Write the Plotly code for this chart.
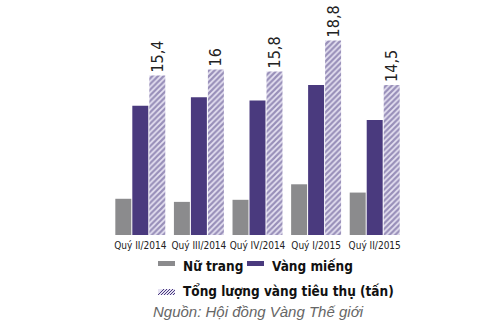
import plotly.graph_objects as go

categories = ["Quý II/2014", "Quý III/2014", "Quý IV/2014", "Quý I/2015", "Quý II/2015"]
nu_trang = [3.5, 3.2, 3.4, 4.9, 4.1]
vang_mieng = [12.5, 13.3, 13.0, 14.5, 11.1]
tong_luong = [15.4, 16.0, 15.8, 18.8, 14.5]
tong_labels = ["15,4", "16", "15,8", "18,8", "14,5"]

W, H = 500, 330
L, R, T, B = 111, 96, 10, 95
PW, PH = W - L - R, H - T - B

def px(x):
    return (x - L) / PW

def py(y):
    return (H - B - y) / PH

GRAY = "#8b8b8d"
PURPLE = "#4a3a7e"
HATCH_FG = "#4a3b80"
HATCH_BG = "#e6e2f2"
NARROW = "DejaVu Sans Condensed"

fig = go.Figure()
fig.add_trace(go.Bar(x=categories, y=nu_trang, name="Nữ trang",
                     marker=dict(color=GRAY, line=dict(width=0))))
fig.add_trace(go.Bar(x=categories, y=vang_mieng, name="Vàng miếng",
                     marker=dict(color=PURPLE, line=dict(width=0))))
fig.add_trace(go.Bar(x=categories, y=tong_luong, name="Tổng lượng vàng tiêu thụ (tấn)",
                     text=tong_labels, textposition="outside", textangle=-90,
                     constraintext="none",
                     textfont=dict(family=NARROW, size=16, color="#222"),
                     cliponaxis=False,
                     marker=dict(color=HATCH_BG, line=dict(width=0),
                                 pattern=dict(shape="/", fgcolor=HATCH_FG, bgcolor=HATCH_BG,
                                              size=4, solidity=0.55))))

shapes = []
annotations = []
# legend row 1
shapes.append(dict(type="rect", xref="paper", yref="paper",
                   x0=px(158), x1=px(175), y0=py(266), y1=py(261),
                   fillcolor=GRAY, line=dict(width=0)))
shapes.append(dict(type="rect", xref="paper", yref="paper",
                   x0=px(247), x1=px(264), y0=py(266), y1=py(261),
                   fillcolor=PURPLE, line=dict(width=0)))
# hatched swatch row 2
shapes.append(dict(type="rect", xref="paper", yref="paper",
                   x0=px(158), x1=px(175), y0=py(295), y1=py(289),
                   fillcolor=HATCH_BG, line=dict(width=0)))
for i in range(6):
    x0 = 158 + i * 3
    x1 = min(x0 + 6, 175)
    shapes.append(dict(type="line", xref="paper", yref="paper",
                       x0=px(x0), y0=py(295), x1=px(x1), y1=py(295 - (x1 - x0)),
                       line=dict(color=HATCH_FG, width=1)))
legend_font = dict(family=NARROW, size=13.5, color="#111")
annotations.append(dict(text="<b>Nữ trang</b>", xref="paper", yref="paper",
                        x=px(181), y=py(266), xanchor="left", yanchor="middle",
                        showarrow=False, font=legend_font))
annotations.append(dict(text="<b>Vàng miếng</b>", xref="paper", yref="paper",
                        x=px(270), y=py(266), xanchor="left", yanchor="middle",
                        showarrow=False, font=legend_font))
annotations.append(dict(text="<b>Tổng lượng vàng tiêu thụ (tấn)</b>", xref="paper", yref="paper",
                        x=px(181), y=py(291), xanchor="left", yanchor="middle",
                        showarrow=False, font=legend_font))
annotations.append(dict(text="<i>Nguồn: Hội đồng Vàng Thế giới</i>", xref="paper", yref="paper",
                        x=px(151), y=py(311), xanchor="left", yanchor="middle",
                        showarrow=False, font=dict(family="Liberation Sans, Arial, sans-serif",
                                                   size=15, color="#666")))

fig.update_layout(
    width=W, height=H,
    margin=dict(l=L, r=R, t=T, b=B),
    paper_bgcolor="white", plot_bgcolor="white",
    barmode="group", bargap=0.13, bargroupgap=0.06,
    showlegend=False,
    shapes=shapes, annotations=annotations,
    xaxis=dict(showgrid=False, showline=False, zeroline=False, ticks="", tickangle=0,
               ticklabelstandoff=3,
               tickfont=dict(family=NARROW, size=10, color="#222")),
    yaxis=dict(visible=False, range=[0, PH / 10.35]),
)

fig.write_html("out.html")
